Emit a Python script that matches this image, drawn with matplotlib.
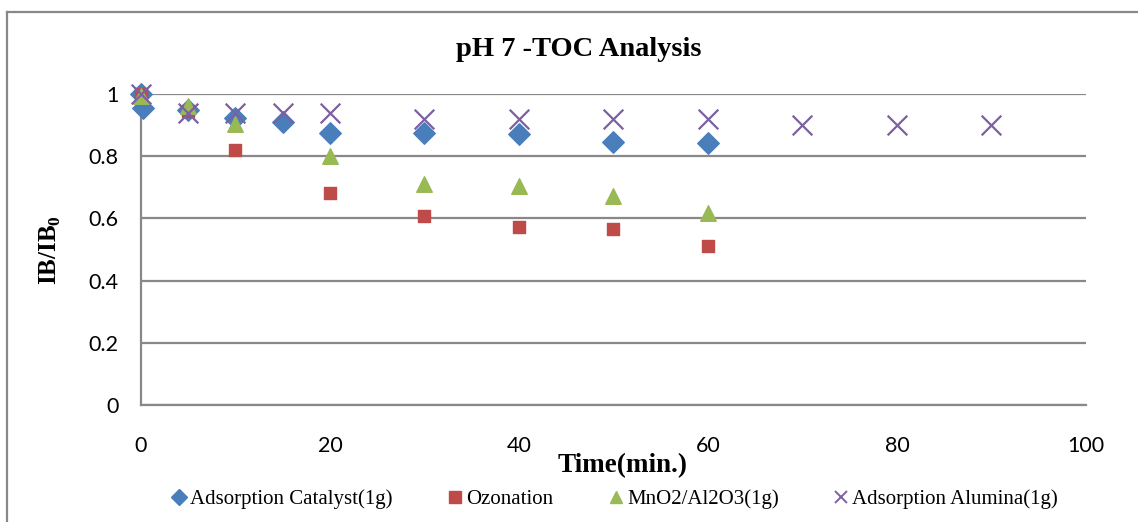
import matplotlib.pyplot as plt
from matplotlib.lines import Line2D

plt.rcParams["mathtext.fontset"] = "custom"
plt.rcParams["mathtext.rm"] = "Liberation Serif"
plt.rcParams["mathtext.bf"] = "Liberation Serif:bold"

# data
t_cat = [0, 0.2, 5, 10, 15, 20, 30, 40, 50, 60]
ib_cat = [1.0, 0.955, 0.949, 0.923, 0.91, 0.875, 0.875, 0.871, 0.846, 0.842]

t_ozo = [0, 5, 10, 20, 30, 40, 50, 60]
ib_ozo = [1.0, 0.945, 0.82, 0.682, 0.608, 0.572, 0.566, 0.511]

t_mno = [0, 5, 10, 20, 30, 40, 50, 60]
ib_mno = [0.995, 0.962, 0.905, 0.80, 0.71, 0.703, 0.672, 0.618]

t_alu = [0, 5, 10, 15, 20, 30, 40, 50, 60, 70, 80, 90]
ib_alu = [1.0, 0.94, 0.94, 0.94, 0.94, 0.92, 0.92, 0.92, 0.92, 0.899, 0.899, 0.899]

labels = ["Adsorption Catalyst(1g)", "Ozonation", "MnO2/Al2O3(1g)", "Adsorption Alumina(1g)"]
colors = ["#4a7ebb", "#be4b48", "#98b954", "#7d60a0"]

fig = plt.figure(figsize=(11.38, 5.22), dpi=100)
ax = fig.add_axes([141 / 1138, 1 - 405 / 522, (1086 - 141) / 1138, (405 - 94) / 522])

ax.scatter(t_cat, ib_cat, marker="D", s=120, color=colors[0], zorder=3, clip_on=False)
ax.scatter(t_ozo, ib_ozo, marker="s", s=85, color=colors[1], zorder=3, clip_on=False)
ax.scatter(t_mno, ib_mno, marker="^", s=125, color=colors[2], zorder=3, clip_on=False)
ax.scatter(t_alu, ib_alu, marker="x", s=200, color=colors[3], linewidths=1.6, zorder=4, clip_on=False)

ax.set_xlim(0, 100)
ax.set_ylim(0, 1)
ax.set_xticks([0, 20, 40, 60, 80, 100])
ax.set_yticks([0, 0.2, 0.4, 0.6, 0.8, 1])
ax.set_yticklabels(["0", "0.2", "0.4", "0.6", "0.8", "1"])
ax.grid(axis="y", color="#888888", linewidth=1.6)
ax.set_axisbelow(True)
for s in ["top", "right"]:
    ax.spines[s].set_visible(False)
for s in ["left", "bottom"]:
    ax.spines[s].set_color("#888888")
    ax.spines[s].set_linewidth(1.6)
ax.tick_params(length=0, labelsize=15.5)
ax.tick_params(axis="x", pad=22)
ax.tick_params(axis="y", pad=16)
for lab in ax.get_xticklabels() + ax.get_yticklabels():
    lab.set_family("Lato")

fig.text(0.509, 1 - 50 / 522, "pH 7 -TOC Analysis", ha="center", va="center",
         family="Liberation Serif", weight="bold", fontsize=20.5)
fig.text(0.547, 1 - 466 / 522, "Time(min.)", ha="center", va="center",
         family="Liberation Serif", weight="bold", fontsize=19.5)
fig.text(50 / 1138, 1 - 250 / 522, "IB/IB$_\\mathbf{0}$", ha="center", va="center", rotation=90,
         family="Liberation Serif", weight="bold", fontsize=18)

handles = [
    Line2D([], [], marker="D", color=colors[0], linestyle="none", markersize=8),
    Line2D([], [], marker="s", color=colors[1], linestyle="none", markersize=9),
    Line2D([], [], marker="^", color=colors[2], linestyle="none", markersize=9),
    Line2D([], [], marker="x", color=colors[3], linestyle="none", markersize=9, markeredgewidth=1.4),
]
fig.legend(handles, labels, loc="center", bbox_to_anchor=(0.539, 1 - 499 / 522), ncol=4,
           frameon=False, prop={"family": "Liberation Serif", "size": 15},
           handletextpad=0.03, columnspacing=2.5, handlelength=1.0, borderpad=0)

# outer chart border (left and top visible)
fig.add_artist(Line2D([7 / 1138, 7 / 1138], [0, 1 - 12 / 522], color="#888888", linewidth=1.6))
fig.add_artist(Line2D([7 / 1138, 1], [1 - 12 / 522, 1 - 12 / 522], color="#888888", linewidth=1.6))

fig.savefig("out.png", dpi=100)
